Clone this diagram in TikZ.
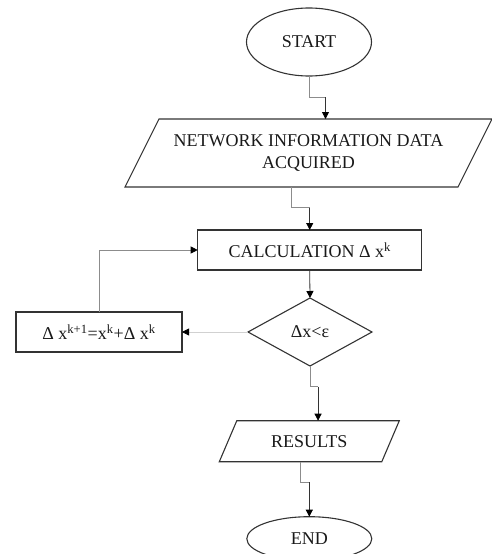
\documentclass[tikz,border=0pt]{standalone}
\usepackage{fontspec}
\setmainfont{Liberation Serif}
\usetikzlibrary{shapes.geometric,arrows.meta,calc}
\begin{document}
\begin{tikzpicture}[x=1pt,y=-1pt,
  font=\fontsize{18}{21.5}\selectfont,
  shapeline/.style={draw=black!80, line width=1.1pt},
  termbox/.style={shapeline, ellipse, text=black!90, inner sep=0pt, outer sep=0pt, minimum width=125, minimum height=68},
  procbox/.style={shapeline, rectangle, text=black!90, inner sep=0pt, outer sep=0pt},
  decbox/.style={shapeline, diamond, aspect=1.8, text=black!90, inner sep=0pt, outer sep=0pt},
  iobody/.style={rectangle, text=black!90, inner sep=0pt, outer sep=0pt, align=center},
  glink/.style={draw=black!45, line width=0.8pt},
  dlink/.style={draw=black!80, line width=0.8pt, -{Triangle[length=7pt,width=7pt,color=black]}},
  gtip/.style={draw=black!45, line width=0.8pt, -{Triangle[length=7pt,width=7pt,color=black]}},
  llink/.style={draw=black!18, line width=0.8pt, -{Triangle[length=7pt,width=7pt,color=black]}}]
\useasboundingbox (0,0) rectangle (492,554);

% nodes
\node[termbox] (start) at (309,42) {START};
\node[iobody, minimum width=333, minimum height=68] (net) at (308.5,153) {NETWORK INFORMATION DATA\\ACQUIRED};
\draw[shapeline] ($(net.south west)+(-17,0)$) -- ($(net.north west)+(17,0)$) -- ($(net.north east)+(17,0)$) -- ($(net.south east)+(-17,0)$) -- cycle;
\coordinate (nettop) at ($(net.north)+(17,0)$);
\coordinate (netbot) at ($(net.south)+(-17,0)$);

\node[procbox, minimum width=224, minimum height=40] (calc) at (309.7,250) {CALCULATION Δ x\textsuperscript{k}};
\node[decbox, minimum width=124, minimum height=68] (dia) at (310,332) {Δx<ε};
\node[procbox, minimum width=166, minimum height=40] (upd) at (99,332) {Δ x\textsuperscript{k+1}=x\textsuperscript{k}+Δ x\textsuperscript{k}};

\node[iobody, minimum width=162.5, minimum height=41] (res) at (309.3,441.2) {RESULTS};
\draw[shapeline] ($(res.south west)+(-8.75,0)$) -- ($(res.north west)+(8.75,0)$) -- ($(res.north east)+(8.75,0)$) -- ($(res.south east)+(-8.75,0)$) -- cycle;
\coordinate (restop) at ($(res.north)+(8.75,0)$);
\coordinate (resbot) at ($(res.south)+(-8.75,0)$);

\node[termbox, minimum height=44] (end) at (309.3,538.7) {END};

% connectors
\coordinate (k1) at (nettop |- 0,97);
\draw[glink] (start.south) |- (k1);
\draw[dlink] (k1) -- (nettop);

\coordinate (k2) at (calc.north |- 0,207.7);
\draw[glink] (netbot) |- (k2);
\draw[dlink] (k2) -- (calc.north);

\draw[dlink] (calc.south) -- (dia.north);
\draw[llink] (dia.west) -- (upd.east);
\draw[gtip] (upd.north) |- (calc.west);

\coordinate (k3) at (restop |- 0,386.7);
\draw[glink] (dia.south) |- (k3);
\draw[dlink] (k3) -- (restop);

\coordinate (k4) at (end.north |- 0,482.3);
\draw[glink] (resbot) |- (k4);
\draw[dlink] (k4) -- (end.north);
\end{tikzpicture}
\end{document}
